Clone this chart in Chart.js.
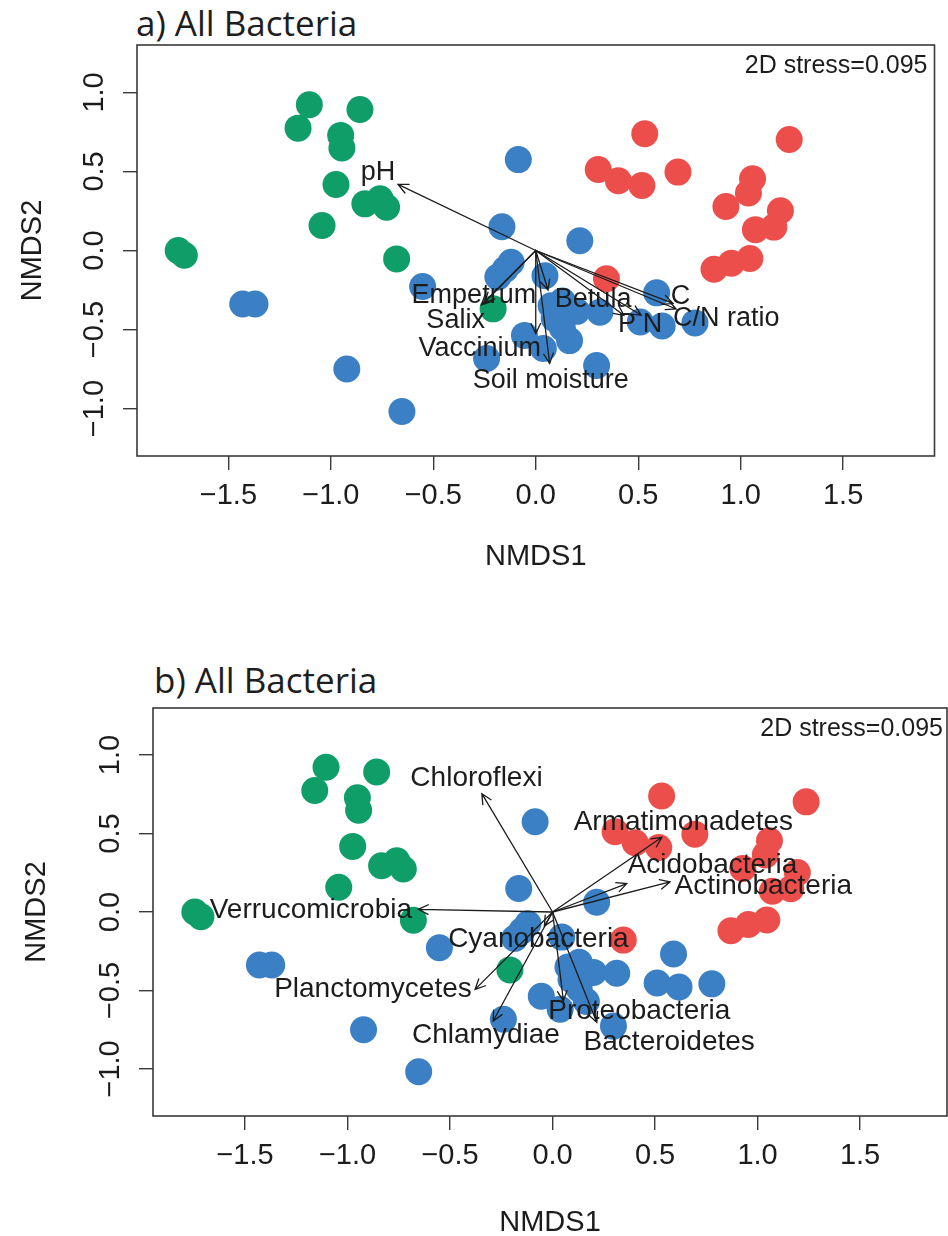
<!DOCTYPE html>
<html>
<head>
<meta charset="utf-8">
<script src="https://cdn.jsdelivr.net/npm/chart.js@4.4.1/dist/chart.umd.min.js"></script>
<style>
  html, body { margin:0; padding:0; background:#fff; overflow:hidden; }
  #wrap { position:relative; width:948px; height:1236px; overflow:hidden; }
  canvas { position:absolute; left:0; }
  .ttl { position:absolute; font-family:"Open Sans", sans-serif; font-size:35px; line-height:1; color:#1e1e1e; white-space:nowrap; }
</style>
</head>
<body>
<div id="wrap">
  <div class="ttl" id="titleA" style="left:136px; top:5px;">a) All Bacteria</div>
  <canvas id="chartA" width="948" height="600" style="top:0"></canvas>
  <div class="ttl" id="titleB" style="left:154px; top:662px;">b) All Bacteria</div>
  <canvas id="chartB" width="980" height="640" style="top:620px"></canvas>
</div>
<script>
// axis ticks
const xTicks = [-1.5, -1, -0.5, 0, 0.5, 1, 1.5];
const xTickLabels = ['−1.5', '−1.0', '−0.5', '0.0', '0.5', '1.0', '1.5'];
const yTicks = [-1, -0.5, 0, 0.5, 1];
const yTickLabels = ['−1.0', '−0.5', '0.0', '0.5', '1.0'];
const stressText = '2D stress=0.095';

// NMDS site scores, one array pair per group
const greenX = [-1.105, -0.858, -1.16, -0.952, -0.946, -0.975, -0.834, -0.76, -0.728, -1.043, -1.745, -1.715, -0.679, -0.208];
const greenY = [0.922, 0.892, 0.774, 0.728, 0.648, 0.418, 0.295, 0.327, 0.274, 0.158, 0.0, -0.03, -0.053, -0.369];

const blueX = [-0.085, -0.165, 0.215, -0.12, -0.15, -0.185, 0.045, -0.552, -1.43, -1.37, 0.59, 0.075, 0.13, 0.2, 0.313, 0.09,
               0.51, 0.617, 0.777, -0.055, 0.13, 0.165, 0.037, -0.24, 0.297, -0.922, -0.653];
const blueY = [0.575, 0.15, 0.062, -0.075, -0.12, -0.168, -0.16, -0.228, -0.338, -0.338, -0.268, -0.35, -0.32, -0.385, -0.39, -0.43,
               -0.452, -0.478, -0.458, -0.537, -0.49, -0.57, -0.62, -0.683, -0.727, -0.75, -1.018];

const redX = [0.532, 1.237, 0.305, 0.403, 0.518, 0.694, 1.058, 1.038, 0.928, 1.194, 1.162, 1.072, 0.87, 0.955, 1.045, 0.345];
const redY = [0.739, 0.702, 0.512, 0.441, 0.411, 0.496, 0.454, 0.364, 0.278, 0.251, 0.148, 0.132, -0.119, -0.08, -0.051, -0.179];

// a) environmental vectors
const envNames  = ['pH', 'Empetrum', 'Salix', 'Vaccinium', 'Soil moisture', 'Betula', 'P', 'N', 'C', 'C/N ratio'];
const envX      = [-0.672, -0.265, -0.25, 0.0, 0.068, 0.06, 0.43, 0.515, 0.67, 0.685];
const envY      = [0.418, -0.345, -0.33, -0.525, -0.715, -0.25, -0.41, -0.41, -0.335, -0.37];
const envLabelX = [-0.77, -0.302, -0.391, -0.273, 0.073, 0.28, 0.445, 0.57, 0.707, 0.93];
const envLabelY = [0.495, -0.282, -0.44, -0.619, -0.82, -0.313, -0.47, -0.47, -0.292, -0.43];

// b) phylum vectors
const phylaNames  = ['Chloroflexi', 'Armatimonadetes', 'Acidobacteria', 'Actinobacteria', 'Verrucomicrobia',
                     'Cyanobacteria', 'Planctomycetes', 'Chlamydiae', 'Proteobacteria', 'Bacteroidetes'];
const phylaX      = [-0.345, 0.533, 0.362, 0.573, -0.655, -0.04, -0.378, -0.29, 0.053, 0.216];
const phylaY      = [0.754, 0.476, 0.181, 0.192, 0.017, -0.09, -0.493, -0.695, -0.567, -0.704];
const phylaLabelX = [-0.371, 0.638, 0.78, 1.028, -1.179, -0.069, -0.876, -0.325, 0.423, 0.569];
const phylaLabelY = [0.855, 0.571, 0.297, 0.164, 0.013, -0.177, -0.493, -0.788, -0.63, -0.83];

const INK = '#1c1c1c';
const FONT = '"Liberation Sans", Arial, sans-serif';

function pts(xs, ys){ return xs.map((x,i)=>({x, y:ys[i]})); }

// box, arrows, vector labels and stress note
const ordiPlugin = {
  id:'ordi',
  afterDatasetsDraw(chart, args, o){
    const {ctx, chartArea:a, scales:{x, y}} = chart;
    const x0 = x.getPixelForValue(0), y0 = y.getPixelForValue(0);
    ctx.save();
    ctx.strokeStyle = INK; ctx.lineWidth = 1.3; ctx.lineCap = 'round';
    o.vx.forEach((vx,i)=>{
      const tx = x.getPixelForValue(vx), ty = y.getPixelForValue(o.vy[i]);
      const ang = Math.atan2(ty-y0, tx-x0), hl = 11, ha = Math.PI/7;
      ctx.beginPath();
      ctx.moveTo(x0, y0); ctx.lineTo(tx, ty);
      ctx.moveTo(tx - hl*Math.cos(ang-ha), ty - hl*Math.sin(ang-ha));
      ctx.lineTo(tx, ty);
      ctx.lineTo(tx - hl*Math.cos(ang+ha), ty - hl*Math.sin(ang+ha));
      ctx.stroke();
    });
    ctx.fillStyle = INK;
    ctx.font = o.labelSize + 'px ' + FONT;
    ctx.textAlign = 'center'; ctx.textBaseline = 'middle';
    o.names.forEach((n,i)=>{
      ctx.fillText(n, x.getPixelForValue(o.lx[i]), y.getPixelForValue(o.ly[i]));
    });
    ctx.font = '25px ' + FONT;
    ctx.textAlign = 'right'; ctx.textBaseline = 'alphabetic';
    ctx.fillText(stressText, a.right - o.stressInset, a.top + 28);
    ctx.strokeStyle = '#3a3a3a'; ctx.lineWidth = 1.6;
    ctx.strokeRect(a.left, a.top, a.right - a.left, a.bottom - a.top);
    ctx.restore();
  }
};

function makeChart(id, g){
  return new Chart(document.getElementById(id), {
    type:'scatter',
    data:{
      datasets:[
        {data:pts(greenX, greenY), backgroundColor:'#0f9d68'},
        {data:pts(blueX, blueY), backgroundColor:'#3b7fc4'},
        {data:pts(redX, redY), backgroundColor:'#ec4f4b'}
      ]
    },
    options:{
      responsive:false, animation:false, devicePixelRatio:1,
      layout:{padding:{top:g.top, right:g.right, bottom:0, left:0}},
      elements:{point:{radius:13.5, borderWidth:0, hoverRadius:13.5}},
      plugins:{
        legend:{display:false}, tooltip:{enabled:false},
        ordi:{vx:g.vx, vy:g.vy, lx:g.lx, ly:g.ly, names:g.names, labelSize:g.labelSize, stressInset:g.stressInset}
      },
      scales:{
        x:{
          type:'linear', min:g.xmin, max:g.xmax,
          afterBuildTicks:s=>{ s.ticks = xTicks.map(v=>({value:v})); },
          afterFit:s=>{ s.height = g.xh; },
          grid:{drawOnChartArea:false, drawTicks:true, tickLength:14, color:'#3a3a3a', lineWidth:1.4},
          border:{display:false},
          ticks:{color:INK, font:{family:FONT, size:29}, padding:9, autoSkip:false, maxRotation:0, minRotation:0,
                 callback:(v,i)=>xTickLabels[xTicks.indexOf(v)]},
          title:{display:true, text:'NMDS1', color:INK, font:{family:FONT, size:29}, padding:{top:0, bottom:g.xTitlePad}}
        },
        y:{
          type:'linear', min:-1.3, max:1.3,
          afterBuildTicks:s=>{ s.ticks = yTicks.map(v=>({value:v})); },
          afterFit:s=>{ s.width = g.yw; },
          grid:{drawOnChartArea:false, drawTicks:true, tickLength:14, color:'#3a3a3a', lineWidth:1.4},
          border:{display:false},
          ticks:{color:INK, font:{family:FONT, size:29}, padding:-1, autoSkip:false, minRotation:90, maxRotation:90, crossAlign:'center',
                 callback:(v,i)=>yTickLabels[yTicks.indexOf(v)]},
          title:{display:true, text:'NMDS2', color:INK, font:{family:FONT, size:29}, padding:{top:g.yTitlePad, bottom:0}}
        }
      }
    },
    plugins:[ordiPlugin]
  });
}

makeChart('chartA', {
  top:45, right:13, xh:144, yw:137, xmin:-1.946, xmax:1.946, xTitlePad:26, yTitlePad:16,
  vx:envX, vy:envY, lx:envLabelX, ly:envLabelY, names:envNames, labelSize:27, stressInset:7
});
makeChart('chartB', {
  top:88, right:33, xh:144, yw:153, xmin:-1.949, xmax:1.924, xTitlePad:20, yTitlePad:20,
  vx:phylaX, vy:phylaY, lx:phylaLabelX, ly:phylaLabelY, names:phylaNames, labelSize:28, stressInset:4
});
</script>
</body>
</html>
